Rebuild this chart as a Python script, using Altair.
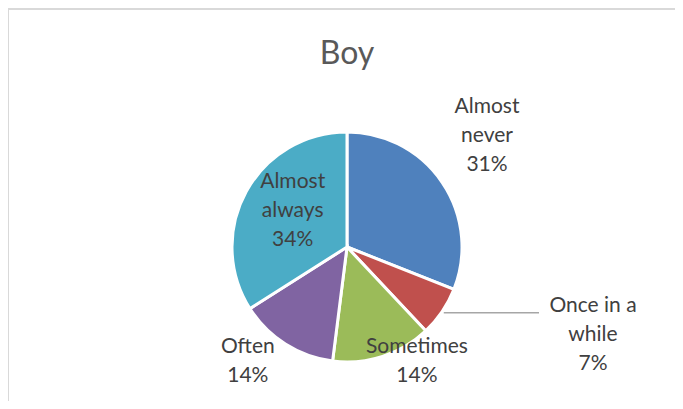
import altair as alt
import pandas as pd

# ---- data ----
categories = ["Almost never", "Once in a while", "Sometimes", "Often", "Almost always"]
values = [31, 7, 14, 14, 34]  # percent

# ---- styling / layout ----
colors = ["#4F81BD", "#C0504D", "#9BBB59", "#8064A2", "#4BACC6"]
label_lines = ["Almost|never", "Once in a|while", "Sometimes", "Often", "Almost|always"]
label_radius = [198, 253, 122, 141, 85]          # radius of first text line, px
label_nudge = [-3.0, -5.75, -4.72, 3.42, 5.97]   # angle nudge, percent units

W, H = 667, 393
CX, CY = 339, 239
R = 115
LEADER_R = 117
LEADER_END_X = 531
FONT = "Lato"

df = pd.DataFrame({
    "category": categories,
    "value": values,
    "idx": list(range(len(categories))),
    "lines": label_lines,
    "lr": label_radius,
    "nudge": label_nudge,
})

base = alt.Chart(df).transform_window(
    cum="sum(value)", sort=[alt.SortField("idx", order="ascending")], frame=[None, 0]
).transform_calculate(
    mid="datum.cum - datum.value/2",
    lt="datum.cum - datum.value/2 + datum.nudge",
    label="datum.lines + '|' + datum.value + '%'",
)

pie = alt.Chart(df).mark_arc(radius=R, stroke="white", strokeWidth=3).encode(
    theta=alt.Theta("value:Q"),
    order=alt.Order("idx:Q"),
    color=alt.Color("category:N", scale=alt.Scale(domain=categories, range=colors), legend=None),
    x=alt.value(CX),
    y=alt.value(CY),
)

labels = base.mark_text(
    font=FONT, fontSize=21, color="#404040", lineBreak="|", lineHeight=29,
    align="center", baseline="middle",
).encode(
    theta=alt.Theta("lt:Q", stack=False),
    radius=alt.Radius("lr:Q", scale=None),
    text="label:N",
    x=alt.value(CX),
    y=alt.value(CY),
)

leader = base.transform_filter(
    alt.datum.category == "Once in a while"
).transform_calculate(
    lx=f"{CX} + {LEADER_R}*sin(2*PI*datum.mid/100)",
    ly=f"{CY} - {LEADER_R}*cos(2*PI*datum.mid/100)",
).mark_rule(color="#A6A6A6", strokeWidth=1.5).encode(
    x=alt.X("lx:Q", scale=None),
    x2=alt.value(LEADER_END_X),
    y=alt.Y("ly:Q", scale=None),
)

one = pd.DataFrame({"t": ["Boy"]})
frame_top = alt.Chart(one).mark_rule(color="#D9D9D9", strokeWidth=2).encode(
    x=alt.value(0), x2=alt.value(W), y=alt.value(1)
)
frame_left = alt.Chart(one).mark_rule(color="#D9D9D9", strokeWidth=2).encode(
    x=alt.value(0), y=alt.value(0), y2=alt.value(H)
)

title = alt.Chart(one).mark_text(
    font=FONT, fontSize=32, color="#595959", baseline="alphabetic", align="center"
).encode(text="t:N", x=alt.value(CX), y=alt.value(56))

chart = alt.layer(frame_top, frame_left, pie, leader, labels, title).properties(
    width=W, height=H, autosize=alt.AutoSizeParams(type="none"), padding=0
).configure_view(stroke=None)

chart.save("out.html", embed_options={"renderer": "svg", "actions": False})
